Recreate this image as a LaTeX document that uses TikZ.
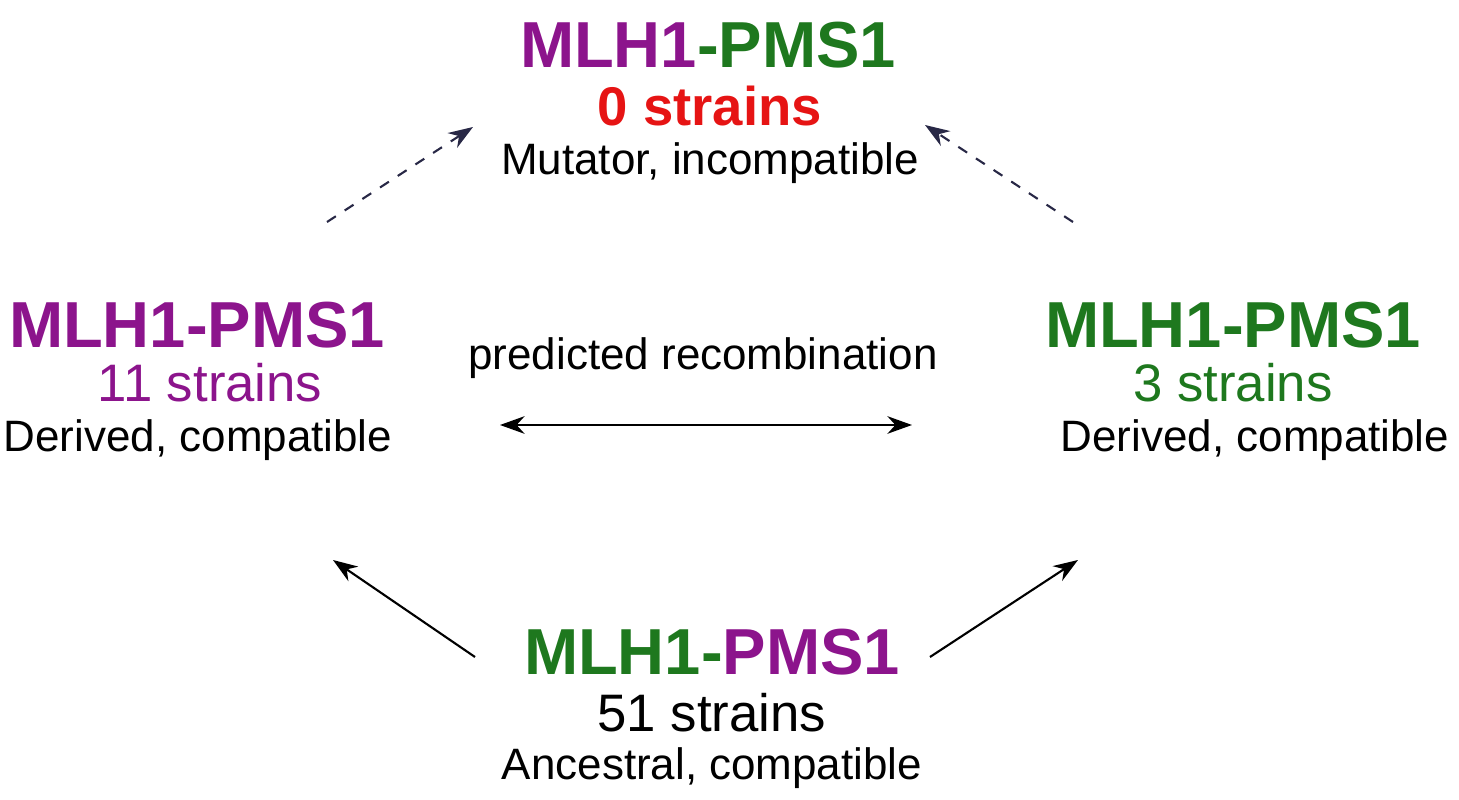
\documentclass[tikz,border=0pt]{standalone}
\usepackage{fontspec}
\setmainfont{Liberation Sans}
\usetikzlibrary{arrows.meta}
\definecolor{mpurple}{RGB}{140,20,140}
\definecolor{mgreen}{RGB}{30,120,30}
\definecolor{mred}{RGB}{230,20,20}
\definecolor{dnavy}{RGB}{40,40,70}
\begin{document}
\begin{tikzpicture}[x=0.01cm,y=-0.01cm,
  title/.style={font=\fontsize{18.5}{21}\selectfont\bfseries},
  mid/.style={font=\fontsize{15}{17}\selectfont},
  sub/.style={font=\fontsize{12.5}{14}\selectfont},
  arr/.style={-{Stealth[length=7pt,width=5pt]},line width=0.6pt},
  darr/.style={arr,dashed,dnavy},
  dbl/.style={{Stealth[length=7pt,width=5pt]}-{Stealth[length=7pt,width=5pt]},line width=0.6pt}]
\useasboundingbox (0,0) rectangle (1459,800);
\node[title] (t) at (708,45) {\textcolor{mpurple}{MLH1}\textcolor{mgreen}{-PMS1}};
\node[text=mred,font=\fontsize{15.5}{17}\selectfont\bfseries] (t2) at (710,106) {0 strains};
\node[sub] (t3) at (710,163) {Mutator, incompatible};
\node[title,text=mpurple] (l) at (197,325) {MLH1-PMS1};
\node[mid,text=mpurple] (l2) at (210,383) {11 strains};
\node[sub] (l3) at (198,440) {Derived, compatible};
\node[title,text=mgreen] (r) at (1233,325) {MLH1-PMS1};
\node[mid,text=mgreen] (r2) at (1233,383) {3 strains};
\node[sub] (r3) at (1255,440) {Derived, compatible};
\node[title] (b) at (712,652) {\textcolor{mgreen}{MLH1-}\textcolor{mpurple}{PMS1}};
\node[mid] (b2) at (712,713) {51 strains};
\node[sub] (b3) at (712,768) {Ancestral, compatible};
\node[sub] (c) at (703,358) {predicted recombination};
\coordinate (c1) at (500,425); \coordinate (c2) at (912,425);
\coordinate (dl1) at (327,222); \coordinate (dl2) at (473,127);
\coordinate (dr1) at (1073,222); \coordinate (dr2) at (925,125);
\coordinate (sl1) at (475,657); \coordinate (sl2) at (333,560);
\coordinate (sr1) at (930,657); \coordinate (sr2) at (1078,560);
\draw[dbl] (c1) -- (c2);
\draw[darr] (dl1) -- (dl2);
\draw[darr] (dr1) -- (dr2);
\draw[arr] (sl1) -- (sl2);
\draw[arr] (sr1) -- (sr2);
\end{tikzpicture}
\end{document}
